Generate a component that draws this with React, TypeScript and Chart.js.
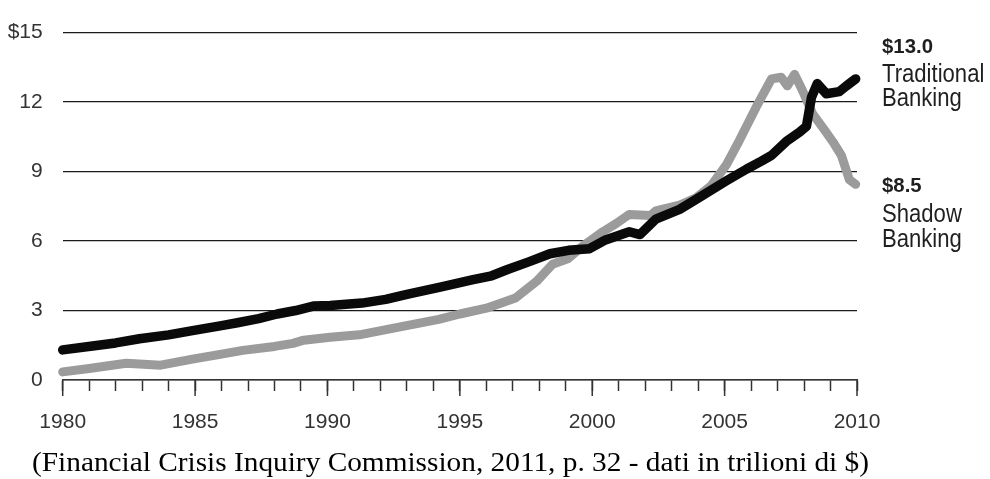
import React, { useEffect, useRef } from 'react';
import { Chart, registerables } from 'chart.js';

Chart.register(...registerables);

// Traditional banking liabilities (trillions of $)
const tradYears = [
  1980.0, 1981.2, 1982.0, 1982.9, 1984.0, 1984.9, 1986.0, 1986.6, 1987.4, 1988.1,
  1988.8, 1989.5, 1990.1, 1991.3, 1992.2, 1993.0, 1994.3, 1995.5, 1996.2, 1996.8,
  1997.6, 1998.4, 1999.1, 1999.9, 2000.5, 2001.4, 2001.8, 2002.4, 2003.3, 2004.0,
  2005.07, 2005.82, 2006.39, 2006.77, 2007.33, 2007.83, 2008.09, 2008.28, 2008.5, 2008.84,
  2009.33, 2009.6, 2009.95,
];
const tradValues = [
  1.3, 1.48, 1.6, 1.78, 1.95, 2.13, 2.35, 2.47, 2.65, 2.85,
  3.0, 3.2, 3.22, 3.32, 3.48, 3.7, 4.02, 4.33, 4.5, 4.77,
  5.1, 5.45, 5.6, 5.67, 6.05, 6.4, 6.28, 6.95, 7.37, 7.85,
  8.6, 9.1, 9.45, 9.7, 10.3, 10.7, 10.95, 12.2, 12.8, 12.36,
  12.45, 12.7, 13.0,
];

// Shadow banking liabilities (trillions of $)
const shadowYears = [
  1980.0, 1981.0, 1982.4, 1983.7, 1984.9, 1986.0, 1986.8, 1988.0, 1988.7, 1989.1,
  1990.1, 1991.2, 1992.6, 1994.2, 1995.0, 1996.0, 1997.1, 1997.9, 1998.5, 1999.1,
  1999.6, 2000.4, 2000.9, 2001.4, 2002.2, 2002.4, 2003.3, 2003.9, 2004.5, 2005.07,
  2005.56, 2006.2, 2006.77, 2007.14, 2007.37, 2007.64, 2007.94, 2008.32, 2008.77, 2009.14,
  2009.41, 2009.71, 2009.95,
];
const shadowValues = [
  0.35, 0.5, 0.72, 0.64, 0.9, 1.12, 1.28, 1.45, 1.58, 1.72,
  1.85, 1.95, 2.26, 2.62, 2.85, 3.1, 3.54, 4.26, 5.0, 5.25,
  5.75, 6.4, 6.75, 7.15, 7.1, 7.3, 7.55, 7.85, 8.4, 9.3,
  10.35, 11.8, 13.0, 13.07, 12.7, 13.2, 12.5, 11.5, 10.8, 10.2,
  9.7, 8.65, 8.45,
];

const xLabelYears = [1980, 1985, 1990, 1995, 2000, 2005, 2010];
const yTickValues = [0, 3, 6, 9, 12, 15];
const tradLabel = ['$13.0', 'Traditional', 'Banking'];
const shadowLabel = ['$8.5', 'Shadow', 'Banking'];
const caption = '(Financial Crisis Inquiry Commission, 2011, p. 32 - dati in trilioni di $)';

const SANS = "'Liberation Sans', Arial, sans-serif";
const SERIF = "'Liberation Serif', 'Times New Roman', serif";

function scaledText(ctx: CanvasRenderingContext2D, text: string, x: number, y: number, sx: number) {
  ctx.save();
  ctx.translate(x, y);
  ctx.scale(sx, 1);
  ctx.fillText(text, 0, 0);
  ctx.restore();
}

const annotationPlugin = {
  id: 'annotations',
  afterDraw(chart: any) {
    const ctx = chart.ctx as CanvasRenderingContext2D;
    const xs = chart.scales.x;
    ctx.save();
    // longer ticks every five years
    ctx.strokeStyle = '#333';
    ctx.lineWidth = 1.5;
    xLabelYears.forEach((yr) => {
      const px = xs.getPixelForValue(yr);
      ctx.beginPath();
      ctx.moveTo(px, xs.top);
      ctx.lineTo(px, xs.top + 16);
      ctx.stroke();
    });

    ctx.fillStyle = '#1f1f1f';
    ctx.textAlign = 'left';
    ctx.textBaseline = 'alphabetic';
    const lx = 882;
    ctx.font = `bold 21px ${SANS}`;
    scaledText(ctx, tradLabel[0], lx, 53, 0.97);
    ctx.font = `26px ${SANS}`;
    scaledText(ctx, tradLabel[1], lx, 82, 0.85);
    scaledText(ctx, tradLabel[2], lx, 106, 0.85);

    ctx.font = `bold 21px ${SANS}`;
    scaledText(ctx, shadowLabel[0], lx, 192, 0.97);
    ctx.font = `26px ${SANS}`;
    scaledText(ctx, shadowLabel[1], lx, 222, 0.85);
    scaledText(ctx, shadowLabel[2], lx, 247, 0.85);

    ctx.fillStyle = '#000';
    ctx.textAlign = 'left';
    ctx.font = `27px ${SERIF}`;
    const w = ctx.measureText(caption).width;
    const target = 837;
    scaledText(ctx, caption, 32, 471, target / w);
    ctx.restore();
  },
};

export default function App() {
  const canvasRef = useRef<HTMLCanvasElement | null>(null);

  useEffect(() => {
    if (!canvasRef.current) return;
    const chart = new Chart(canvasRef.current, {
      type: 'line',
      data: {
        datasets: [
          {
            label: 'Traditional Banking',
            data: tradYears.map((x, i) => ({ x, y: tradValues[i] })),
            borderColor: '#0a0a0a',
            borderWidth: 9.5,
            borderCapStyle: 'round',
            borderJoinStyle: 'round',
            pointRadius: 0,
            tension: 0,
            clip: false as any,
          },
          {
            label: 'Shadow Banking',
            data: shadowYears.map((x, i) => ({ x, y: shadowValues[i] })),
            borderColor: '#9b9b9b',
            borderWidth: 9,
            borderCapStyle: 'round',
            borderJoinStyle: 'round',
            pointRadius: 0,
            tension: 0,
            clip: false as any,
          },
        ],
      },
      options: {
        animation: false,
        responsive: false,
        maintainAspectRatio: false,
        events: [],
        layout: { padding: { left: 0, right: 133, top: 28, bottom: 0 } },
        plugins: {
          legend: { display: false },
          tooltip: { enabled: false },
          title: { display: false },
        },
        scales: {
          x: {
            type: 'linear',
            position: 'bottom',
            min: 1980,
            max: 2010,
            afterFit: (scale: any) => {
              scale.height = 99;
            },
            ticks: {
              stepSize: 1,
              autoSkip: false,
              maxRotation: 0,
              padding: 19,
              color: '#333',
              font: { family: SANS, size: 21 },
              callback: (v: any) => (xLabelYears.includes(Number(v)) ? String(v) : ''),
            },
            grid: {
              display: true,
              drawOnChartArea: false,
              drawTicks: true,
              tickLength: 11,
              tickColor: '#333',
              tickWidth: 1.5,
            },
            border: { display: true, color: '#333', width: 1.5 },
          },
          y: {
            type: 'linear',
            min: 0,
            max: 15,
            afterFit: (scale: any) => {
              scale.width = 62.7;
            },
            afterBuildTicks: (scale: any) => {
              scale.ticks = yTickValues.map((v) => ({ value: v }));
            },
            ticks: {
              padding: 20,
              color: '#333',
              font: { family: SANS, size: 21 },
              callback: (v: any) => (Number(v) === 15 ? '$15' : String(v)),
            },
            grid: {
              display: true,
              drawTicks: false,
              color: '#1a1a1a',
              lineWidth: 1.3,
            },
            border: { display: false },
          },
        },
      },
      plugins: [annotationPlugin],
    });
    return () => chart.destroy();
  }, []);

  return (
    <div style={{ position: 'fixed', left: 0, top: 0, width: 990, height: 479, background: '#fff' }}>
      <canvas ref={canvasRef} width={990} height={479} style={{ width: 990, height: 479, display: 'block' }} />
    </div>
  );
}
